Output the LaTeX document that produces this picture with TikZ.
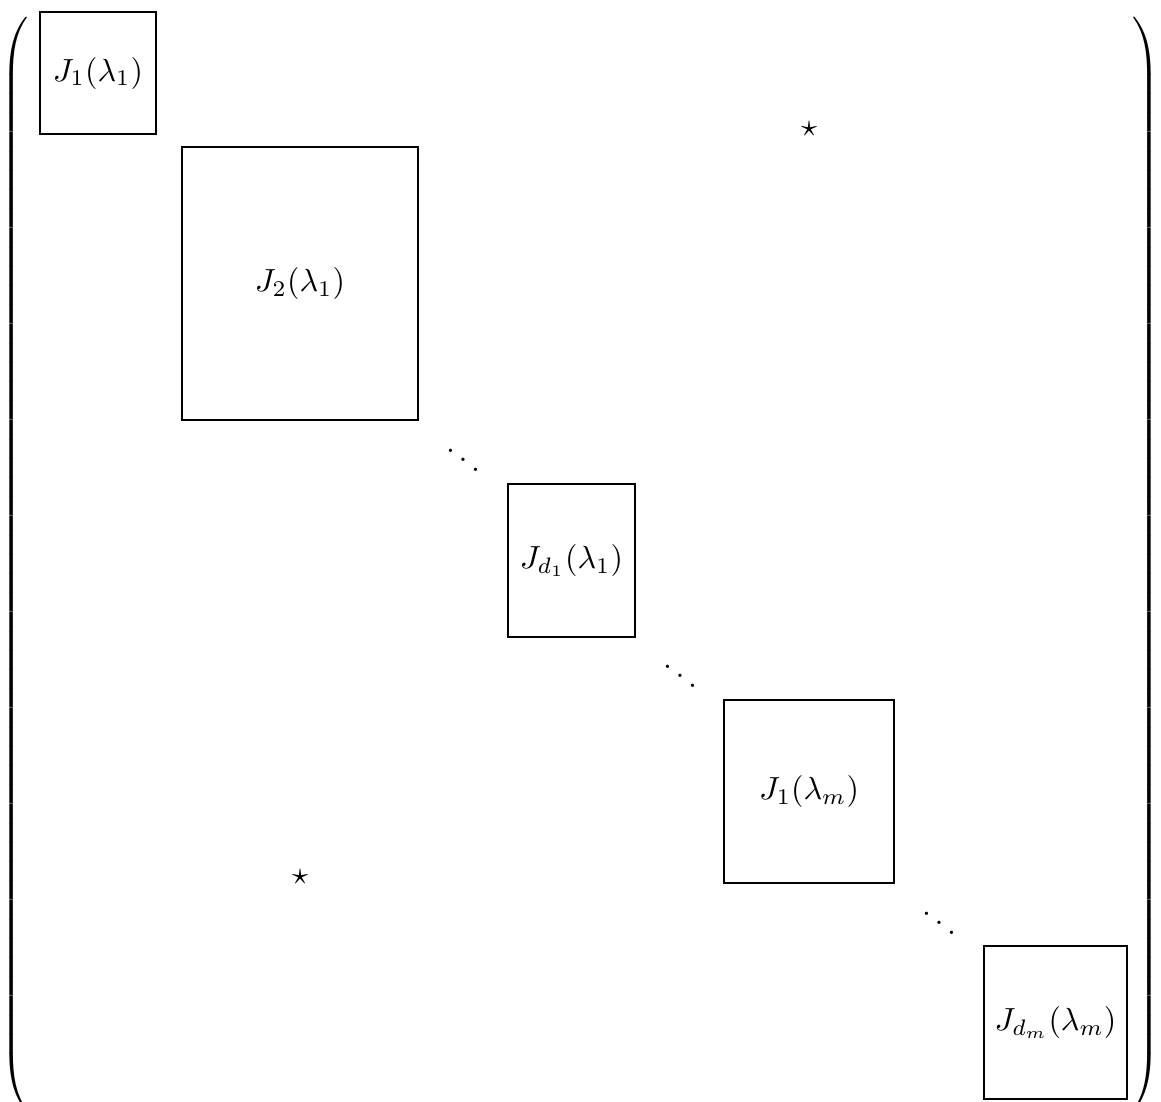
\documentclass[tikz,border=0pt]{standalone}
\usepackage{amsmath}
\begin{document}
\begin{tikzpicture}[x=0.3125pt,y=-0.3125pt,
  blockbox/.style={draw,line width=0.35pt,inner sep=0pt,anchor=center},
  dotsnode/.style={inner sep=0pt,anchor=base},
  starnode/.style={inner sep=0pt,anchor=center},
  parnode/.style={inner sep=0pt}]
\useasboundingbox (0,0) rectangle (1161,1101);

% Jordan blocks along the diagonal
\node[blockbox,minimum width=36.25pt,minimum height=38.13pt] (b1) at (98,73) {$J_1(\lambda_1)$};
\node[blockbox,minimum width=73.75pt,minimum height=85.31pt] (b2) at (300,283.5) {$J_2(\lambda_1)$};
\node[blockbox,minimum width=39.69pt,minimum height=47.81pt] (b3) at (571.5,560.5) {$J_{d_1}(\lambda_1)$};
\node[blockbox,minimum width=53.13pt,minimum height=57.19pt] (b4) at (809,791.5) {$J_1(\lambda_m)$};
\node[blockbox,minimum width=44.69pt,minimum height=47.81pt] (b5) at (1055.5,1022.5) {$J_{d_m}(\lambda_m)$};

% diagonal dots between the blocks
\node[dotsnode] (d1) at (463,474.6) {$\ddots$};
\node[dotsnode] (d2) at (680,690.6) {$\ddots$};
\node[dotsnode] (d3) at (939,937.6) {$\ddots$};

% off-diagonal entries
\node[starnode] (s1) at (809,129) {$\star$};
\node[starnode] (s2) at (300,877) {$\star$};

% enclosing parentheses
\node[parnode,anchor=west] (lp) at (0,564) {$\left(\vcenter to 343pt{\vfil}\right.$};
\node[parnode,anchor=east] (rp) at (1161,564) {$\left.\vcenter to 343pt{\vfil}\right)$};
\end{tikzpicture}
\end{document}
